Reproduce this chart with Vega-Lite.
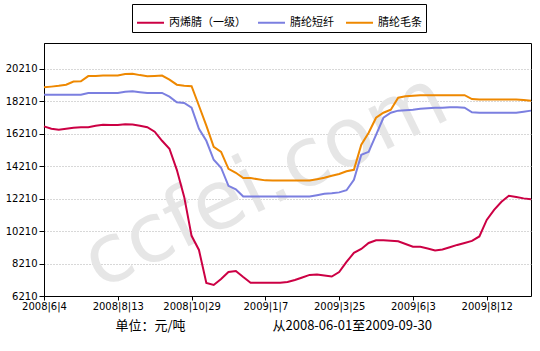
{
  "$schema": "https://vega.github.io/schema/vega-lite/v6.json",
  "width": 487,
  "height": 253,
  "autosize": {"type": "none"},
  "padding": {"left": 44, "top": 43, "right": 9, "bottom": 55},
  "background": "white",
  "config": {
    "view": {"stroke": "black", "strokeWidth": 1},
    "axis": {
      "labelFont": "DejaVu Sans",
      "labelFontSize": 10,
      "labelColor": "black",
      "domainColor": "black",
      "tickColor": "black",
      "titleFont": "Noto Sans CJK SC",
      "titleFontSize": 13,
      "titleFontWeight": "normal",
      "titleColor": "black"
    }
  },
  "datasets": {
    "prices": [
      {"n": 0, "d": "2008-06-04", "丙烯腈（一级）": 16670, "腈纶短纤": 18620, "腈纶毛条": 19080},
      {"n": 1, "d": "2008-06-11", "丙烯腈（一级）": 16520, "腈纶短纤": 18620, "腈纶毛条": 19120},
      {"n": 2, "d": "2008-06-18", "丙烯腈（一级）": 16460, "腈纶短纤": 18620, "腈纶毛条": 19170},
      {"n": 3, "d": "2008-06-25", "丙烯腈（一级）": 16520, "腈纶短纤": 18620, "腈纶毛条": 19240},
      {"n": 4, "d": "2008-07-02", "丙烯腈（一级）": 16590, "腈纶短纤": 18620, "腈纶毛条": 19430},
      {"n": 5, "d": "2008-07-09", "丙烯腈（一级）": 16620, "腈纶短纤": 18620, "腈纶毛条": 19450},
      {"n": 6, "d": "2008-07-16", "丙烯腈（一级）": 16620, "腈纶短纤": 18720, "腈纶毛条": 19770},
      {"n": 7, "d": "2008-07-23", "丙烯腈（一级）": 16710, "腈纶短纤": 18730, "腈纶毛条": 19780},
      {"n": 8, "d": "2008-07-30", "丙烯腈（一级）": 16770, "腈纶短纤": 18730, "腈纶毛条": 19800},
      {"n": 9, "d": "2008-08-06", "丙烯腈（一级）": 16750, "腈纶短纤": 18730, "腈纶毛条": 19800},
      {"n": 10, "d": "2008-08-13", "丙烯腈（一级）": 16750, "腈纶短纤": 18730, "腈纶毛条": 19800},
      {"n": 11, "d": "2008-08-20", "丙烯腈（一级）": 16800, "腈纶短纤": 18810, "腈纶毛条": 19900},
      {"n": 12, "d": "2008-08-27", "丙烯腈（一级）": 16780, "腈纶短纤": 18830, "腈纶毛条": 19920},
      {"n": 13, "d": "2008-09-03", "丙烯腈（一级）": 16710, "腈纶短纤": 18780, "腈纶毛条": 19830},
      {"n": 14, "d": "2008-09-10", "丙烯腈（一级）": 16620, "腈纶短纤": 18730, "腈纶毛条": 19760},
      {"n": 15, "d": "2008-09-17", "丙烯腈（一级）": 16340, "腈纶短纤": 18730, "腈纶毛条": 19780},
      {"n": 16, "d": "2008-09-24", "丙烯腈（一级）": 15780, "腈纶短纤": 18730, "腈纶毛条": 19800},
      {"n": 17, "d": "2008-10-08", "丙烯腈（一级）": 15290, "腈纶短纤": 18500, "腈纶毛条": 19550},
      {"n": 18, "d": "2008-10-15", "丙烯腈（一级）": 13990, "腈纶短纤": 18160, "腈纶毛条": 19240},
      {"n": 19, "d": "2008-10-22", "丙烯腈（一级）": 12320, "腈纶短纤": 18110, "腈纶毛条": 19180},
      {"n": 20, "d": "2008-10-29", "丙烯腈（一级）": 9920, "腈纶短纤": 17820, "腈纶毛条": 19150},
      {"n": 21, "d": "2008-11-05", "丙烯腈（一级）": 9050, "腈纶短纤": 16520, "腈纶毛条": 17940},
      {"n": 22, "d": "2008-11-12", "丙烯腈（一级）": 7010, "腈纶短纤": 15780, "腈纶毛条": 16710},
      {"n": 23, "d": "2008-11-19", "丙烯腈（一级）": 6890, "腈纶短纤": 14610, "腈纶毛条": 15410},
      {"n": 24, "d": "2008-11-26", "丙烯腈（一级）": 7260, "腈纶短纤": 14120, "腈纶毛条": 15100},
      {"n": 25, "d": "2008-12-03", "丙烯腈（一级）": 7690, "腈纶短纤": 13000, "腈纶毛条": 14050},
      {"n": 26, "d": "2008-12-10", "丙烯腈（一级）": 7750, "腈纶短纤": 12790, "腈纶毛条": 13810},
      {"n": 27, "d": "2008-12-17", "丙烯腈（一级）": 7380, "腈纶短纤": 12340, "腈纶毛条": 13480},
      {"n": 28, "d": "2008-12-24", "丙烯腈（一级）": 7030, "腈纶短纤": 12340, "腈纶毛条": 13480},
      {"n": 29, "d": "2008-12-31", "丙烯腈（一级）": 7030, "腈纶短纤": 12340, "腈纶毛条": 13410},
      {"n": 30, "d": "2009-01-07", "丙烯腈（一级）": 7030, "腈纶短纤": 12340, "腈纶毛条": 13340},
      {"n": 31, "d": "2009-01-14", "丙烯腈（一级）": 7030, "腈纶短纤": 12340, "腈纶毛条": 13330},
      {"n": 32, "d": "2009-01-21", "丙烯腈（一级）": 7030, "腈纶短纤": 12340, "腈纶毛条": 13330},
      {"n": 33, "d": "2009-02-04", "丙烯腈（一级）": 7075, "腈纶短纤": 12340, "腈纶毛条": 13330},
      {"n": 34, "d": "2009-02-11", "丙烯腈（一级）": 7200, "腈纶短纤": 12340, "腈纶毛条": 13330},
      {"n": 35, "d": "2009-02-18", "丙烯腈（一级）": 7350, "腈纶短纤": 12340, "腈纶毛条": 13330},
      {"n": 36, "d": "2009-02-25", "丙烯腈（一级）": 7510, "腈纶短纤": 12340, "腈纶毛条": 13330},
      {"n": 37, "d": "2009-03-04", "丙烯腈（一级）": 7540, "腈纶短纤": 12420, "腈纶毛条": 13410},
      {"n": 38, "d": "2009-03-11", "丙烯腈（一级）": 7480, "腈纶短纤": 12510, "腈纶毛条": 13500},
      {"n": 39, "d": "2009-03-18", "丙烯腈（一级）": 7410, "腈纶短纤": 12540, "腈纶毛条": 13620},
      {"n": 40, "d": "2009-03-25", "丙烯腈（一级）": 7690, "腈纶短纤": 12600, "腈纶毛条": 13730},
      {"n": 41, "d": "2009-04-01", "丙烯腈（一级）": 8310, "腈纶短纤": 12730, "腈纶毛条": 13900},
      {"n": 42, "d": "2009-04-08", "丙烯腈（一级）": 8870, "腈纶短纤": 13370, "腈纶毛条": 13990},
      {"n": 43, "d": "2009-04-15", "丙烯腈（一级）": 9110, "腈纶短纤": 14920, "腈纶毛条": 15540},
      {"n": 44, "d": "2009-04-22", "丙烯腈（一级）": 9480, "腈纶短纤": 15100, "腈纶毛条": 16280},
      {"n": 45, "d": "2009-04-29", "丙烯腈（一级）": 9650, "腈纶短纤": 16150, "腈纶毛条": 17200},
      {"n": 46, "d": "2009-05-06", "丙烯腈（一级）": 9640, "腈纶短纤": 17200, "腈纶毛条": 17510},
      {"n": 47, "d": "2009-05-13", "丙烯腈（一级）": 9620, "腈纶短纤": 17510, "腈纶毛条": 17700},
      {"n": 48, "d": "2009-05-20", "丙烯腈（一级）": 9580, "腈纶短纤": 17640, "腈纶毛条": 18440},
      {"n": 49, "d": "2009-05-27", "丙烯腈（一级）": 9420, "腈纶短纤": 17670, "腈纶毛条": 18530},
      {"n": 50, "d": "2009-06-03", "丙烯腈（一级）": 9250, "腈纶短纤": 17700, "腈纶毛条": 18560},
      {"n": 51, "d": "2009-06-10", "丙烯腈（一级）": 9240, "腈纶短纤": 17760, "腈纶毛条": 18590},
      {"n": 52, "d": "2009-06-17", "丙烯腈（一级）": 9140, "腈纶短纤": 17790, "腈纶毛条": 18590},
      {"n": 53, "d": "2009-06-24", "丙烯腈（一级）": 9020, "腈纶短纤": 17820, "腈纶毛条": 18590},
      {"n": 54, "d": "2009-07-01", "丙烯腈（一级）": 9080, "腈纶短纤": 17820, "腈纶毛条": 18590},
      {"n": 55, "d": "2009-07-08", "丙烯腈（一级）": 9220, "腈纶短纤": 17850, "腈纶毛条": 18590},
      {"n": 56, "d": "2009-07-15", "丙烯腈（一级）": 9360, "腈纶短纤": 17850, "腈纶毛条": 18590},
      {"n": 57, "d": "2009-07-22", "丙烯腈（一级）": 9480, "腈纶短纤": 17820, "腈纶毛条": 18590},
      {"n": 58, "d": "2009-07-29", "丙烯腈（一级）": 9610, "腈纶短纤": 17540, "腈纶毛条": 18350},
      {"n": 59, "d": "2009-08-05", "丙烯腈（一级）": 9880, "腈纶短纤": 17510, "腈纶毛条": 18320},
      {"n": 60, "d": "2009-08-12", "丙烯腈（一级）": 10900, "腈纶短纤": 17510, "腈纶毛条": 18320},
      {"n": 61, "d": "2009-08-19", "丙烯腈（一级）": 11520, "腈纶短纤": 17510, "腈纶毛条": 18320},
      {"n": 62, "d": "2009-08-26", "丙烯腈（一级）": 12020, "腈纶短纤": 17510, "腈纶毛条": 18320},
      {"n": 63, "d": "2009-09-02", "丙烯腈（一级）": 12390, "腈纶短纤": 17510, "腈纶毛条": 18320},
      {"n": 64, "d": "2009-09-09", "丙烯腈（一级）": 12320, "腈纶短纤": 17510, "腈纶毛条": 18320},
      {"n": 65, "d": "2009-09-16", "丙烯腈（一级）": 12230, "腈纶短纤": 17570, "腈纶毛条": 18290},
      {"n": 66, "d": "2009-09-23", "丙烯腈（一级）": 12170, "腈纶短纤": 17640, "腈纶毛条": 18250}
    ]
  },
  "layer": [
    {
      "data": {"values": [{"label": "ccfei.com", "n": 30, "price": 13300}]},
      "mark": {"type": "text", "angle": -26, "fontSize": 82, "font": "DejaVu Sans", "color": "#e6e6e6", "align": "center", "baseline": "middle"},
      "encoding": {
        "x": {"field": "n", "type": "quantitative"},
        "y": {"field": "price", "type": "quantitative"},
        "text": {"field": "label"}
      }
    },
    {
      "data": {"name": "prices"},
      "transform": [{"fold": ["丙烯腈（一级）", "腈纶短纤", "腈纶毛条"], "as": ["series", "price"]}],
      "mark": {"type": "line", "strokeWidth": 2},
      "encoding": {
        "x": {
          "field": "n",
          "type": "quantitative",
          "scale": {"domain": [0, 66], "nice": false, "zero": false},
          "axis": {
            "values": [0, 10, 20, 30, 40, 50, 60],
            "tickCount": 20,
            "labelExpr": "['2008|6|4','2008|8|13','2008|10|29','2009|1|7','2009|3|25','2009|6|3','2009|8|12'][datum.value/10]",
            "labelFlush": false,
            "labelOverlap": false,
            "labelBound": false,
            "tickSize": 4,
            "labelPadding": 1,
            "grid": false,
            "title": "从2008-06-01至2009-09-30",
            "titleX": 228,
            "titleY": 29,
            "titleAlign": "left",
            "titleAnchor": null,
            "titleBaseline": "middle"
          }
        },
        "y": {
          "field": "price",
          "type": "quantitative",
          "scale": {"domain": [6210, 21810], "nice": false, "zero": false},
          "axis": {
            "values": [6210, 8210, 10210, 12210, 14210, 16210, 18210, 20210],
            "tickCount": 20,
            "format": "d",
            "labelOverlap": false,
            "labelFlush": false,
            "tickSize": 5,
            "labelPadding": 2,
            "grid": true,
            "gridColor": "#b0b0b0",
            "gridDash": [1, 2],
            "title": "单位：元/吨",
            "titleAngle": 0,
            "titleX": 71,
            "titleY": 282,
            "titleAlign": "left",
            "titleBaseline": "middle"
          }
        },
        "color": {
          "field": "series",
          "type": "nominal",
          "scale": {"domain": ["丙烯腈（一级）", "腈纶短纤", "腈纶毛条"], "range": ["#cc0044", "#7b7fe0", "#ee8800"]},
          "legend": {
            "orient": "none",
            "legendX": 88,
            "legendY": -39,
            "direction": "horizontal",
            "title": null,
            "symbolType": "stroke",
            "symbolSize": 729,
            "symbolStrokeWidth": 2,
            "labelFont": "Noto Sans CJK SC",
            "labelFontSize": 11,
            "labelColor": "black",
            "labelOffset": 4,
            "columnPadding": 8,
            "strokeColor": "black",
            "fillColor": "white",
            "padding": 4
          }
        }
      }
    }
  ]
}
